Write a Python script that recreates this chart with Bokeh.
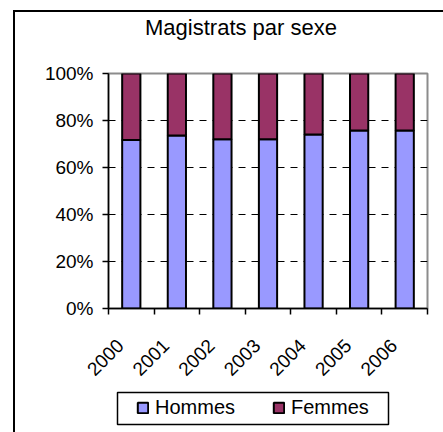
import math
from bokeh.plotting import figure
from bokeh.layouts import column
from bokeh.models import (ColumnDataSource, Range1d, FixedTicker, Legend,
                          LegendItem, Label, BoxAnnotation)
from bokeh.embed import file_html
from bokeh.resources import INLINE

# ---- data ----
years = ["2000", "2001", "2002", "2003", "2004", "2005", "2006"]
hommes = [71.7, 73.6, 72.0, 72.0, 74.0, 75.7, 75.7]
femmes = [round(100 - h, 1) for h in hommes]
y_ticks = [0, 20, 40, 60, 80, 100]
y_tick_labels = ["0%", "20%", "40%", "60%", "80%", "100%"]
title_text = "Magistrats par sexe"
series_names = ["Hommes", "Femmes"]
series_colors = ["#9999FF", "#993366"]

FONT = "Liberation Sans"
W = 428
FRAME_W = 319   # plot-area width (frames of the stacked figures are aligned)

# ---------- title strip ----------
TH = 40
ft = figure(width=W, height=TH, output_backend="svg", toolbar_location=None,
            x_axis_type=None, y_axis_type=None, min_border=0, title=None,
            x_range=Range1d(0, 1), y_range=Range1d(0, 1))
ft.outline_line_color = None
ft.add_layout(Label(x=132.5, y=25, x_units="screen", y_units="screen",
                    text=title_text, text_align="center",
                    text_baseline="alphabetic", text_font=FONT,
                    text_font_size="22px", text_color="black"))

# ---------- main chart ----------
xpos = [i + 0.5 for i in range(len(years))]
src = ColumnDataSource(dict(x=xpos, hommes=hommes, femmes=femmes))

p = figure(width=W, height=332, output_backend="svg", toolbar_location=None,
           x_range=Range1d(0, len(years)), y_range=Range1d(0, 100),
           min_border_left=93, min_border_right=16, min_border_top=21,
           min_border_bottom=68, title=None)
p.background_fill_color = "white"
p.border_fill_color = "white"
p.outline_line_color = "#8c8c8c"
p.outline_line_width = 2

renderers = p.vbar_stack(["hommes", "femmes"], x="x", width=0.4, source=src,
                         fill_color=series_colors, line_color="black",
                         line_width=2)

label_shift = 0.24  # rotated labels sit slightly left of category centre
label_pos = [x - label_shift for x in xpos]
xa = p.xaxis[0]
xa.ticker = FixedTicker(ticks=label_pos, minor_ticks=list(range(len(years) + 1)))
xa.major_label_overrides = {x: y for x, y in zip(label_pos, years)}
xa.major_tick_in = 0
xa.major_tick_out = 0
xa.minor_tick_in = 0
xa.minor_tick_out = 6
xa.minor_tick_line_color = "black"
xa.minor_tick_line_width = 1.5
xa.axis_line_color = "black"
xa.axis_line_width = 1.5
xa.major_label_orientation = math.pi / 4
xa.major_label_standoff = 28
xa.major_label_text_font = FONT
xa.major_label_text_font_size = "19px"
xa.major_label_text_color = "black"

ya = p.yaxis[0]
ya.ticker = FixedTicker(ticks=y_ticks, minor_ticks=[])
ya.major_label_overrides = {t: l for t, l in zip(y_ticks, y_tick_labels)}
ya.major_tick_in = 0
ya.major_tick_out = 6
ya.major_tick_line_color = "black"
ya.major_tick_line_width = 1.5
ya.axis_line_color = "black"
ya.axis_line_width = 1.5
ya.major_label_standoff = 9
ya.major_label_text_font = FONT
ya.major_label_text_font_size = "19px"
ya.major_label_text_color = "black"

p.xgrid.visible = False
p.ygrid.ticker = FixedTicker(ticks=y_ticks[1:-1])
p.ygrid.grid_line_color = "black"
p.ygrid.grid_line_dash = "7 6"
p.ygrid.grid_line_width = 1

# ---------- legend strip ----------
LH = 48
X0, Y0 = -20, 50   # range offsets: swatch-source bars fall inside the white box
fl = figure(width=W, height=LH, output_backend="svg", toolbar_location=None,
            x_axis_type=None, y_axis_type=None, min_border=0, title=None,
            x_range=Range1d(X0, X0 + FRAME_W), y_range=Range1d(Y0, Y0 + LH))
fl.outline_line_color = None
# swatch renderers: same data, zero-height bars hidden under the legend box
leg_renderers = [fl.vbar(x="x", bottom="hommes", top="hommes", width=0.4,
                         source=src, fill_color=c, line_color="black",
                         line_width=2)
                 for c in series_colors]
fl.add_layout(BoxAnnotation(left=X0 + 9, right=X0 + 280,
                            top=Y0 + 40, bottom=Y0 + 8,
                            fill_color="white", fill_alpha=1,
                            line_color="black", line_width=1.5, line_alpha=1))
legend = Legend(items=[LegendItem(label=n, renderers=[r])
                       for n, r in zip(series_names, leg_renderers)],
                location=(28, 13), orientation="horizontal",
                padding=0, margin=0, spacing=36, label_standoff=6,
                label_width=81, glyph_width=13, glyph_height=13,
                label_text_font=FONT, label_text_font_size="20px",
                label_text_color="black",
                border_line_alpha=0, background_fill_alpha=0)
fl.add_layout(legend, "center")

layout = column(ft, p, fl, spacing=0)
layout.margin = (10, 0, 0, 13)
layout.styles = {"border-left": "2px solid black",
                 "border-top": "2px solid black"}

open("out.html", "w").write(file_html(layout, INLINE))
